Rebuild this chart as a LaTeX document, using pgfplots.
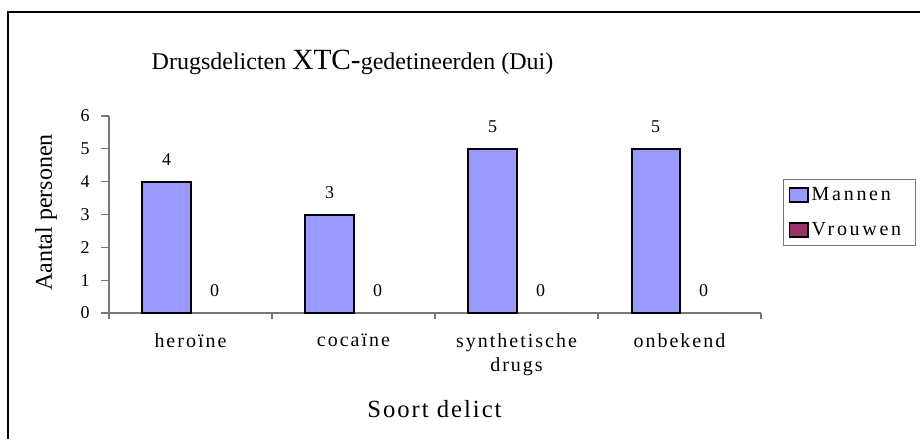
\documentclass[border=0pt]{standalone}
\usepackage{fontspec}
\setmainfont{Liberation Serif}
\usepackage{pgfplots}
\pgfplotsset{compat=1.18}
\definecolor{clrMannen}{HTML}{9999FF}
\definecolor{clrVrouwen}{HTML}{993366}
\definecolor{clrAxis}{HTML}{777777}
\begin{document}
\begin{tikzpicture}
\begin{scope}[x=0.75pt,y=-0.75pt]
  \useasboundingbox (0,0) rectangle (920,439);
  \draw[line width=1.25pt] (8,439) -- (8,12) -- (920,12);
\end{scope}
\begin{axis}[
    at={(81.75pt,-234.75pt)}, anchor=south west,
    scale only axis, width=489pt, height=147.75pt,
    xmin=0, xmax=4, ymin=0, ymax=6,
    clip=false,
    axis lines*=left,
    axis line style={clrAxis, line width=0.9pt},
    tick style={clrAxis, line width=0.9pt},
    tick align=outside,
    major tick length=6pt,
    minor tick length=4.5pt,
    ytick={0,...,6},
    xtick={0.5,1.5,2.5,3.5},
    xticklabels={heroïne, cocaïne, {synthetische\\drugs}, onbekend},
    major x tick style={draw=none},
    minor xtick={0,1,2,3,4},
    /pgf/number format/assume math mode=true,
    yticklabel style={font=\fontsize{13.5}{15}\selectfont, xshift=-5pt},
    xticklabel style={align=center, yshift=-6pt,
        font=\fontsize{15}{18}\selectfont\addfontfeatures{LetterSpace=10}},
    title={Drugsdelicten {\fontsize{22}{24}\selectfont XTC-}gedetineerden (Dui)},
    title style={at={(0.3735,1.234)}, anchor=center, font=\fontsize{18}{22}\selectfont},
    xlabel={Soort delict},
    xlabel style={at={(0.4992,-0.487)}, anchor=center,
        font=\fontsize{18.5}{22}\selectfont\addfontfeatures{LetterSpace=8}},
    ylabel={Aantal personen},
    ylabel style={at={(-0.0966,0.51)}, anchor=center, font=\fontsize{18}{22}\selectfont},
    bar width=0.2945,
    nodes near coords,
    every node near coord/.append style={font=\fontsize{13.5}{15}\selectfont, anchor=center, yshift=16.5pt, text=black},
    legend style={at={(1.0337,0.680)}, anchor=north west, draw=clrAxis, line width=0.75pt,
        font=\fontsize{15}{18}\selectfont\addfontfeatures{LetterSpace=13.5},
        row sep=11pt, inner xsep=4pt, inner ysep=4pt},
    legend cell align=left,
]
\addplot[ybar, bar shift=-0.14725, fill=clrMannen, draw=black, line width=1.5pt,
    every node near coord/.append style={xshift=-18pt},
    legend image code/.code={\draw[fill=clrMannen, draw=black, line width=1.2pt] (0pt,-5.25pt) rectangle (14pt,5.25pt);}]
    coordinates {(0.5,4) (1.5,3) (2.5,5) (3.5,5)};
\addlegendentry{\makebox[72pt][l]{Mannen}}
\addplot[ybar, bar shift=0.14725, fill=clrVrouwen, draw=none,
    every node near coord/.append style={xshift=18pt},
    legend image code/.code={\draw[fill=clrVrouwen, draw=black, line width=1.2pt] (0pt,-5.25pt) rectangle (14pt,5.25pt);}]
    coordinates {(0.5,0) (1.5,0) (2.5,0) (3.5,0)};
\addlegendentry{\makebox[72pt][l]{Vrouwen}}
\end{axis}
\end{tikzpicture}
\end{document}
